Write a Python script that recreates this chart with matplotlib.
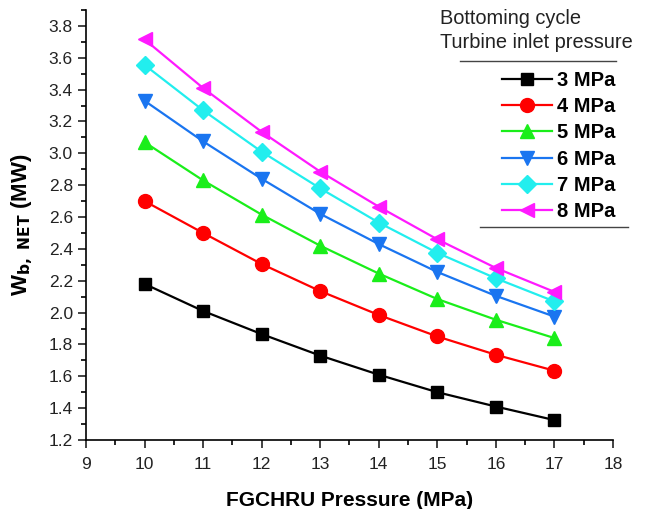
import matplotlib
matplotlib.use("Agg")
import matplotlib.pyplot as plt
from matplotlib.lines import Line2D
from matplotlib.ticker import MultipleLocator

plt.rcParams['font.family'] = ['Liberation Sans', 'DejaVu Sans']

fgchru = [10, 11, 12, 13, 14, 15, 16, 17]
labels = ["3 MPa", "4 MPa", "5 MPa", "6 MPa", "7 MPa", "8 MPa"]
w3 = [2.18, 2.01, 1.865, 1.73, 1.61, 1.50, 1.41, 1.325]
w4 = [2.70, 2.50, 2.305, 2.135, 1.985, 1.85, 1.735, 1.635]
w5 = [3.07, 2.83, 2.615, 2.42, 2.245, 2.085, 1.955, 1.84]
w6 = [3.33, 3.075, 2.84, 2.62, 2.43, 2.255, 2.105, 1.975]
w7 = [3.555, 3.27, 3.01, 2.78, 2.565, 2.375, 2.215, 2.07]
w8 = [3.715, 3.41, 3.135, 2.885, 2.665, 2.46, 2.28, 2.13]
series = [w3, w4, w5, w6, w7, w8]

colors = ["#000000", "#ff0000", "#1aee1a", "#1a75f0", "#22eeee", "#ff1aff"]
markers = ["s", "o", "^", "v", "D", "<"]
msizes = [9, 10, 10, 10, 9, 10]

fig = plt.figure(figsize=(6.46, 5.09), dpi=100)
ax = fig.add_axes([86/646, 1 - 440/509, (613-86)/646, (440-10)/509])

for y, c, m, ms, lab in zip(series, colors, markers, msizes, labels):
    ax.plot(fgchru, y, color=c, marker=m, markersize=ms, linewidth=1.6, label=lab)

ax.set_xlim(9, 18)
ax.set_ylim(1.2, 3.9)
ax.xaxis.set_major_locator(MultipleLocator(1))
ax.xaxis.set_minor_locator(MultipleLocator(0.5))
ax.yaxis.set_minor_locator(MultipleLocator(0.1))
ax.set_yticks([1.2 + 0.2*i for i in range(14)])
ax.set_yticklabels([f"{1.2 + 0.2*i:.1f}" for i in range(14)])
ax.spines['top'].set_visible(False)
ax.spines['right'].set_visible(False)
for s in ['left', 'bottom']:
    ax.spines[s].set_linewidth(1.2)
ax.tick_params(which='major', direction='out', length=6, width=1.2, labelsize=12.5, colors='#222222')
ax.tick_params(which='minor', direction='out', length=3.5, width=1.2)
ax.tick_params(axis='x', pad=6)

ax.set_xlabel("FGCHRU Pressure (MPa)", fontsize=15, fontweight='bold', labelpad=14)
ax.set_ylabel(r"W$_{\mathbf{b,\ NET}}$ (MW)", fontsize=16, fontweight='bold', labelpad=10)

leg = ax.legend(loc='upper left', bbox_to_anchor=(502/646, 1 - 71/509),
                bbox_transform=fig.transFigure, frameon=False,
                prop={'weight': 'bold', 'size': 14.5}, handlelength=2.5,
                handletextpad=0.25, labelspacing=0.36, borderpad=0, borderaxespad=0)

fig.text(440/646, 1 - 18/509, "Bottoming cycle", fontsize=14.4, va='center', ha='left', color='#222222')
fig.text(440/646, 1 - 42/509, "Turbine inlet pressure", fontsize=14.4, va='center', ha='left', color='#222222')
fig.add_artist(Line2D([460/646, 616/646], [1 - 61/509, 1 - 61/509], color='#444444', linewidth=1.0))
fig.add_artist(Line2D([480/646, 628/646], [1 - 227/509, 1 - 227/509], color='#444444', linewidth=1.0))

fig.savefig("out.png", dpi=100)
